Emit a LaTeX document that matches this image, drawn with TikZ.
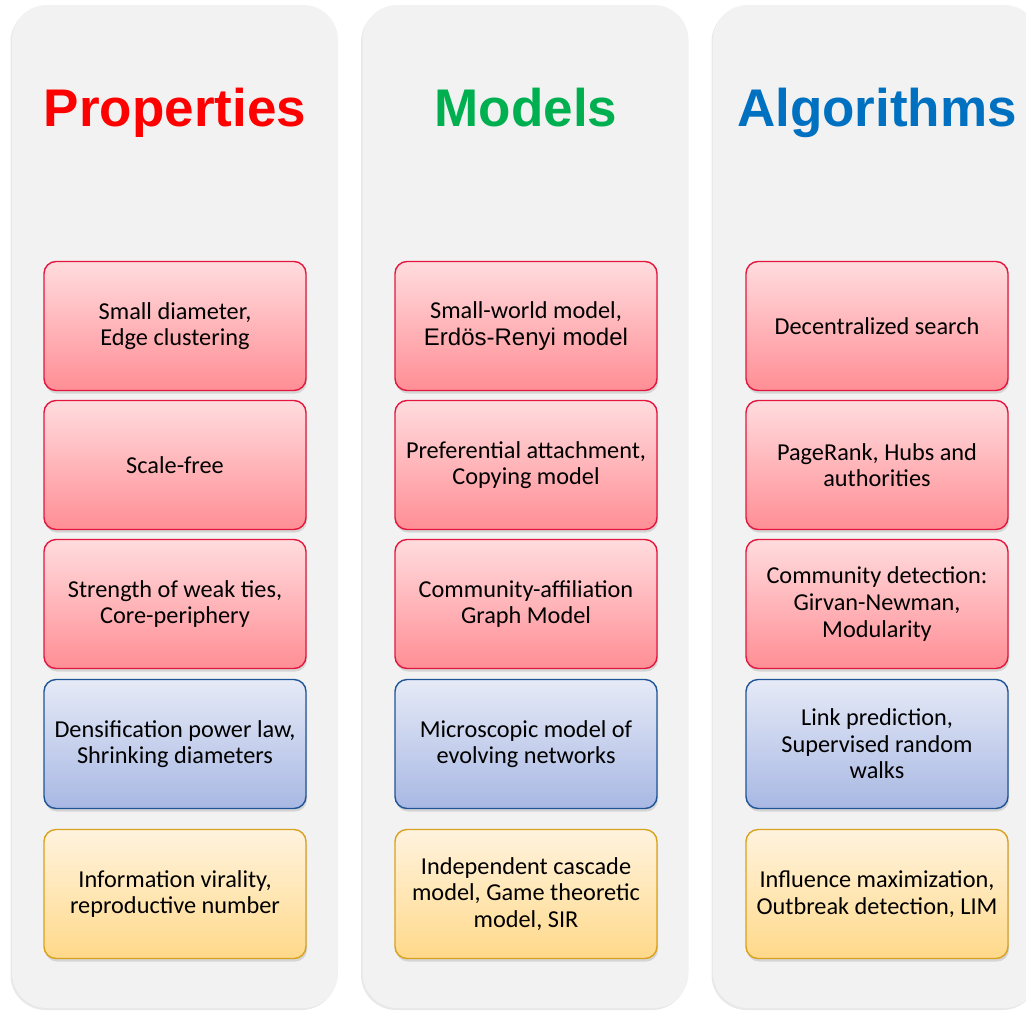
\documentclass[tikz,border=0pt]{standalone}
\usepackage{fontspec}
\setmainfont{Carlito}
\newfontfamily\headfont{Liberation Sans}
\usetikzlibrary{shadows}

\definecolor{panelgray}{HTML}{F2F2F2}
\definecolor{redline}{HTML}{E3173E}
\definecolor{redtop}{HTML}{FFDCDE}
\definecolor{redbot}{HTML}{FF8E95}
\definecolor{blueline}{HTML}{1F5596}
\definecolor{bluetop}{HTML}{E6EAF7}
\definecolor{bluebot}{HTML}{A8B8E3}
\definecolor{yelline}{HTML}{D9A21E}
\definecolor{yeltop}{HTML}{FFF3DE}
\definecolor{yelbot}{HTML}{FFD98A}
\definecolor{titlered}{HTML}{FF0000}
\definecolor{titlegreen}{HTML}{00B050}
\definecolor{titleblue}{HTML}{0070C0}

\tikzset{
  panel/.style={fill=panelgray, rounded corners=35pt, minimum width=326pt,
    minimum height=1003pt, inner sep=0pt,
    drop shadow={opacity=0.18, shadow xshift=-1.5pt, shadow yshift=-2pt}},
  title/.style={font=\headfont\bfseries\fontsize{53}{60}\selectfont,
    inner sep=0pt, anchor=base},
  card/.style={rounded corners=12pt, minimum width=262pt, minimum height=129pt,
    line width=1.4pt, align=center, inner sep=2pt,
    font=\fontsize{24.3}{26.6}\selectfont, text=black,
    drop shadow={opacity=0.25, shadow xshift=1pt, shadow yshift=-3pt}},
  redcard/.style={card, draw=redline, top color=redtop, bottom color=redbot},
  bluecard/.style={card, draw=blueline, top color=bluetop, bottom color=bluebot},
  yelcard/.style={card, draw=yelline, top color=yeltop, bottom color=yelbot},
}

\begin{document}
\begin{tikzpicture}[x=1pt, y=-1pt]
\useasboundingbox (0,0) rectangle (1026,1010);
\fill[white] (0,0) rectangle (1026,1010);

% column panels
\node[panel] (pleft)  at (175,506.5) {};
\node[panel] (pmid)   at (525.5,506.5) {};
\node[panel] (pright) at (876,506.5) {};

% column headings, all on one baseline
\node[title, text=titlered]   (tprop) at (175,126) {Properties};
\node[title, text=titlegreen] (tmod)  at (526,126) {Models};
\node[title, text=titleblue]  (talg)  at (877,126) {Algorithms};

% Properties column
\node[redcard]  (p1) at (175,326) {Small diameter,\\Edge clustering};
\node[redcard]  (p2) at (175,465) {Scale-free};
\node[redcard]  (p3) at (175,604) {Strength of weak ties,\\Core-periphery};
\node[bluecard] (p4) at (175,744) {Densification power law,\\Shrinking diameters};
\node[yelcard]  (p5) at (175,894) {Information virality,\\reproductive number};

% Models column
\node[redcard]  (m1) at (526,326) {Small-world model,\\{\headfont\fontsize{24}{27}\selectfont Erdös-Renyi model}};
\node[redcard]  (m2) at (526,465) {Preferential attachment,\\Copying model};
\node[redcard]  (m3) at (526,604) {Community-affiliation\\Graph Model};
\node[bluecard] (m4) at (526,744) {Microscopic model of\\evolving networks};
\node[yelcard]  (m5) at (526,894) {Independent cascade\\model, Game theoretic\\model, SIR};

% Algorithms column
\node[redcard]  (a1) at (877,326) {Decentralized search};
\node[redcard]  (a2) at (877,465) {PageRank, Hubs and\\authorities};
\node[redcard]  (a3) at (877,604) {Community detection:\\Girvan-Newman,\\Modularity};
\node[bluecard] (a4) at (877,744) {Link prediction,\\Supervised random\\walks};
\node[yelcard]  (a5) at (877,894) {Influence maximization,\\Outbreak detection, LIM};
\end{tikzpicture}
\end{document}
